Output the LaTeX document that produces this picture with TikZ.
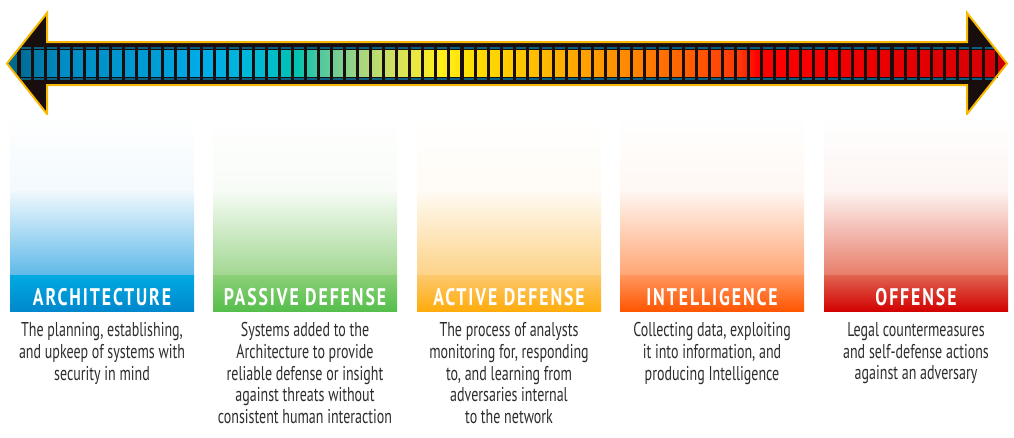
\documentclass[tikz,border=0pt]{standalone}
\usepackage{fontspec}
\setmainfont[FakeStretch=0.7]{PT Sans}
\newfontfamily\titlefont[FakeStretch=0.74,LetterSpace=8]{PT Sans}

% arrow colours
\definecolor{arrowblack}{RGB}{24,14,14}
\definecolor{arrowrim}{RGB}{248,184,0}
\definecolor{tickteal}{RGB}{8,96,130}
\definecolor{bodytext}{RGB}{45,45,45}

% colour stops along the scale
\definecolor{s01}{RGB}{0,108,150}
\definecolor{s02}{RGB}{0,140,195}
\definecolor{s03}{RGB}{0,155,212}
\definecolor{s04}{RGB}{0,172,232}
\definecolor{s05}{RGB}{0,186,212}
\definecolor{s06}{RGB}{0,195,175}
\definecolor{s07}{RGB}{80,200,160}
\definecolor{s08}{RGB}{165,214,128}
\definecolor{s09}{RGB}{218,228,88}
\definecolor{s10}{RGB}{255,240,28}
\definecolor{s11}{RGB}{255,222,0}
\definecolor{s12}{RGB}{255,195,0}
\definecolor{s13}{RGB}{255,168,0}
\definecolor{s14}{RGB}{255,142,0}
\definecolor{s15}{RGB}{255,100,0}
\definecolor{s16}{RGB}{255,55,8}
\definecolor{s17}{RGB}{255,0,0}
\definecolor{s18}{RGB}{238,0,0}
\definecolor{s19}{RGB}{212,0,4}
\definecolor{tipleft}{RGB}{0,104,140}
\definecolor{tipright}{RGB}{205,0,10}

% panel colours: light end, band top, band bottom
\definecolor{pAl}{RGB}{95,185,232}
\definecolor{pAt}{RGB}{0,170,225}
\definecolor{pAb}{RGB}{0,135,205}
\definecolor{pBl}{RGB}{162,215,145}
\definecolor{pBt}{RGB}{140,208,120}
\definecolor{pBb}{RGB}{85,190,75}
\definecolor{pCl}{RGB}{253,210,135}
\definecolor{pCt}{RGB}{253,200,110}
\definecolor{pCb}{RGB}{255,172,10}
\definecolor{pDl}{RGB}{255,165,115}
\definecolor{pDt}{RGB}{255,150,95}
\definecolor{pDb}{RGB}{255,85,0}
\definecolor{pEl}{RGB}{232,125,105}
\definecolor{pEt}{RGB}{225,100,80}
\definecolor{pEb}{RGB}{210,0,0}

\tikzset{
  titletext/.style={text=white,font=\titlefont\bfseries\fontsize{24}{24}\selectfont,anchor=base,inner sep=0pt},
  bodynode/.style={text=bodytext,font=\fontsize{20}{21.6}\selectfont,align=center,anchor=north,inner sep=0pt},
}

\begin{document}
\begin{tikzpicture}[x=1pt,y=-1pt]
\useasboundingbox (0,0) rectangle (1014,437);

% double-headed arrow body
\def\arrowpath{(7,63.5) -- (47,13) -- (47,42) -- (967,42) -- (967,13) -- (1007,63.5) -- (967,114) -- (967,85) -- (47,85) -- (47,114) -- cycle}
\fill[arrowblack] \arrowpath;

\begin{scope}
  \clip \arrowpath;
  % coloured points of the two heads
  \fill[tipleft] (5,47) rectangle (18,80);
  \fill[tipright] (997.5,47) rectangle (1009,80);
  % continuous colour scale behind the cells
  \foreach \xa/\ca/\xb/\cb in {20/s01/60/s02, 60/s02/150/s03, 150/s03/200/s04, 200/s04/260/s05,
      260/s05/296/s06, 296/s06/320/s07, 320/s07/360/s08, 360/s08/400/s09, 400/s09/438/s10,
      438/s10/475/s11, 475/s11/525/s12, 525/s12/572/s13, 572/s13/620/s14, 620/s14/680/s15,
      680/s15/740/s16, 740/s16/757/s17, 757/s17/860/s18, 860/s18/996/s19}
    \shade[left color=\ca,right color=\cb] (\xa,50.7) rectangle (\xb+0.3,76.7);
\end{scope}

% black gaps between cells and teal ticks above and below each cell
\foreach \i in {0,...,74} {
  \pgfmathsetmacro\xs{20.5+13.03*\i}
  \fill[tickteal] (\xs,46.8) rectangle (\xs+10,49.2);
  \fill[tickteal] (\xs,77.9) rectangle (\xs+10,80.3);
  \fill[arrowblack] (\xs+10,50) rectangle (\xs+13.03,77.5);
}
\fill[arrowblack] (17,50) rectangle (20.5,77.5);

\draw[arrowrim,line width=2pt,line join=miter] \arrowpath;

% category panels
\foreach \px/\cl/\ct/\cb/\nm in {10/pAl/pAt/pAb/pa, 213/pBl/pBt/pBb/pb, 417/pCl/pCt/pCb/pc,
    620/pDl/pDt/pDb/pd, 824/pEl/pEt/pEb/pe} {
  \shade[top color=white,bottom color=\cl!8] (\px,115) rectangle (\px+184,190);
  \shade[top color=\cl!8,bottom color=\cl] (\px,189.8) rectangle (\px+184,275.3);
  \shade[top color=\ct,bottom color=\cb] (\px,275) rectangle (\px+184,311.5);
  \coordinate (\nm) at (\px+92,305.5);
}

\node[titletext] (ta) at (pa) {ARCHITECTURE};
\node[titletext] (tb) at (pb) {PASSIVE DEFENSE};
\node[titletext] (tc) at (pc) {ACTIVE DEFENSE};
\node[titletext] (td) at (pd) {INTELLIGENCE};
\node[titletext] (te) at (pe) {OFFENSE};

\node[bodynode] (da) at (102,322.5) {The planning, establishing,\\and upkeep of systems with\\security in mind};
\node[bodynode] (db) at (305,322.5) {Systems added to the\\Architecture to provide\\reliable defense or insight\\against threats without\\consistent human interaction};
\node[bodynode] (dc) at (509,322.5) {The process of analysts\\monitoring for, responding\\to, and learning from\\adversaries internal\\to the network};
\node[bodynode] (dd) at (712,322.5) {Collecting data, exploiting\\it into information, and\\producing Intelligence};
\node[bodynode] (de) at (916,322.5) {Legal countermeasures\\and self-defense actions\\against an adversary};
\end{tikzpicture}
\end{document}
